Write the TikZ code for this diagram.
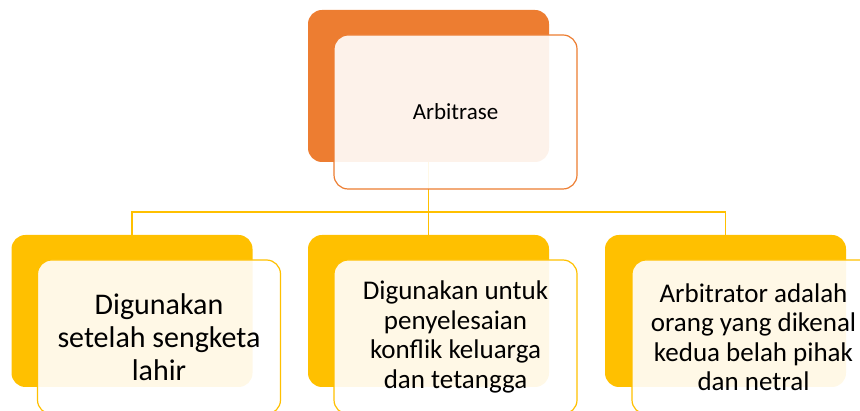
\documentclass[tikz,border=0pt]{standalone}
\usepackage{fontspec}
\setmainfont{Carlito}
\usetikzlibrary{backgrounds,shapes}
\pgfdeclarelayer{edgelayer}
\pgfdeclarelayer{nodelayer}
\pgfsetlayers{edgelayer,nodelayer,main}
\definecolor{accorange}{HTML}{ED7D31}
\definecolor{accgold}{HTML}{FFC000}
\tikzset{font=\fontsize{27}{29.5}\selectfont}
\tikzstyle{back}=[rounded corners=14pt,inner sep=0pt,minimum width=241pt,minimum height=152pt]
\tikzstyle{front}=[rounded corners=14pt,draw,line width=1.2pt,fill=white,fill opacity=0.9,text opacity=1,inner sep=0pt,minimum width=243pt,minimum height=154pt,align=center]
\tikzstyle{conn}=[draw=accgold,line width=1.5pt]

\begin{document}
\begin{tikzpicture}[x=1pt,y=-1pt]
	\useasboundingbox (0,0) rectangle (860,411);
	\begin{pgfonlayer}{edgelayer}
		\node [style=back,fill=accorange] (0) at (428.5, 86) {};
		\node [style=back,fill=accgold] (1) at (132, 311) {};
		\node [style=back,fill=accgold] (2) at (428.5, 311) {};
		\node [style=back,fill=accgold] (3) at (725.5, 311) {};
		\coordinate (4) at (428.5, 212);
		\draw [style=conn] (0.south) to (4);
		\draw [style=conn] (4) -| (1.north);
		\draw [style=conn] (4) to (2.north);
		\draw [style=conn] (4) -| (3.north);
	\end{pgfonlayer}
	\begin{pgfonlayer}{nodelayer}
		\node [style=front,draw=accorange,font=\fontsize{23}{25}\selectfont] (5) at (455.5, 112) {Arbitrase};
		\node [style=front,draw=accgold,font=\fontsize{30}{33}\selectfont] (6) at (159, 337) {Digunakan\\setelah sengketa\\lahir};
		\node [style=front,draw=accgold] (7) at (455.5, 337) {Digunakan untuk\\penyelesaian\\konflik keluarga\\dan tetangga};
		\node [style=front,draw=accgold] (8) at (753.5, 337) {Arbitrator adalah\\orang yang dikenal\\kedua belah pihak\\dan netral};
	\end{pgfonlayer}
\end{tikzpicture}
\end{document}
